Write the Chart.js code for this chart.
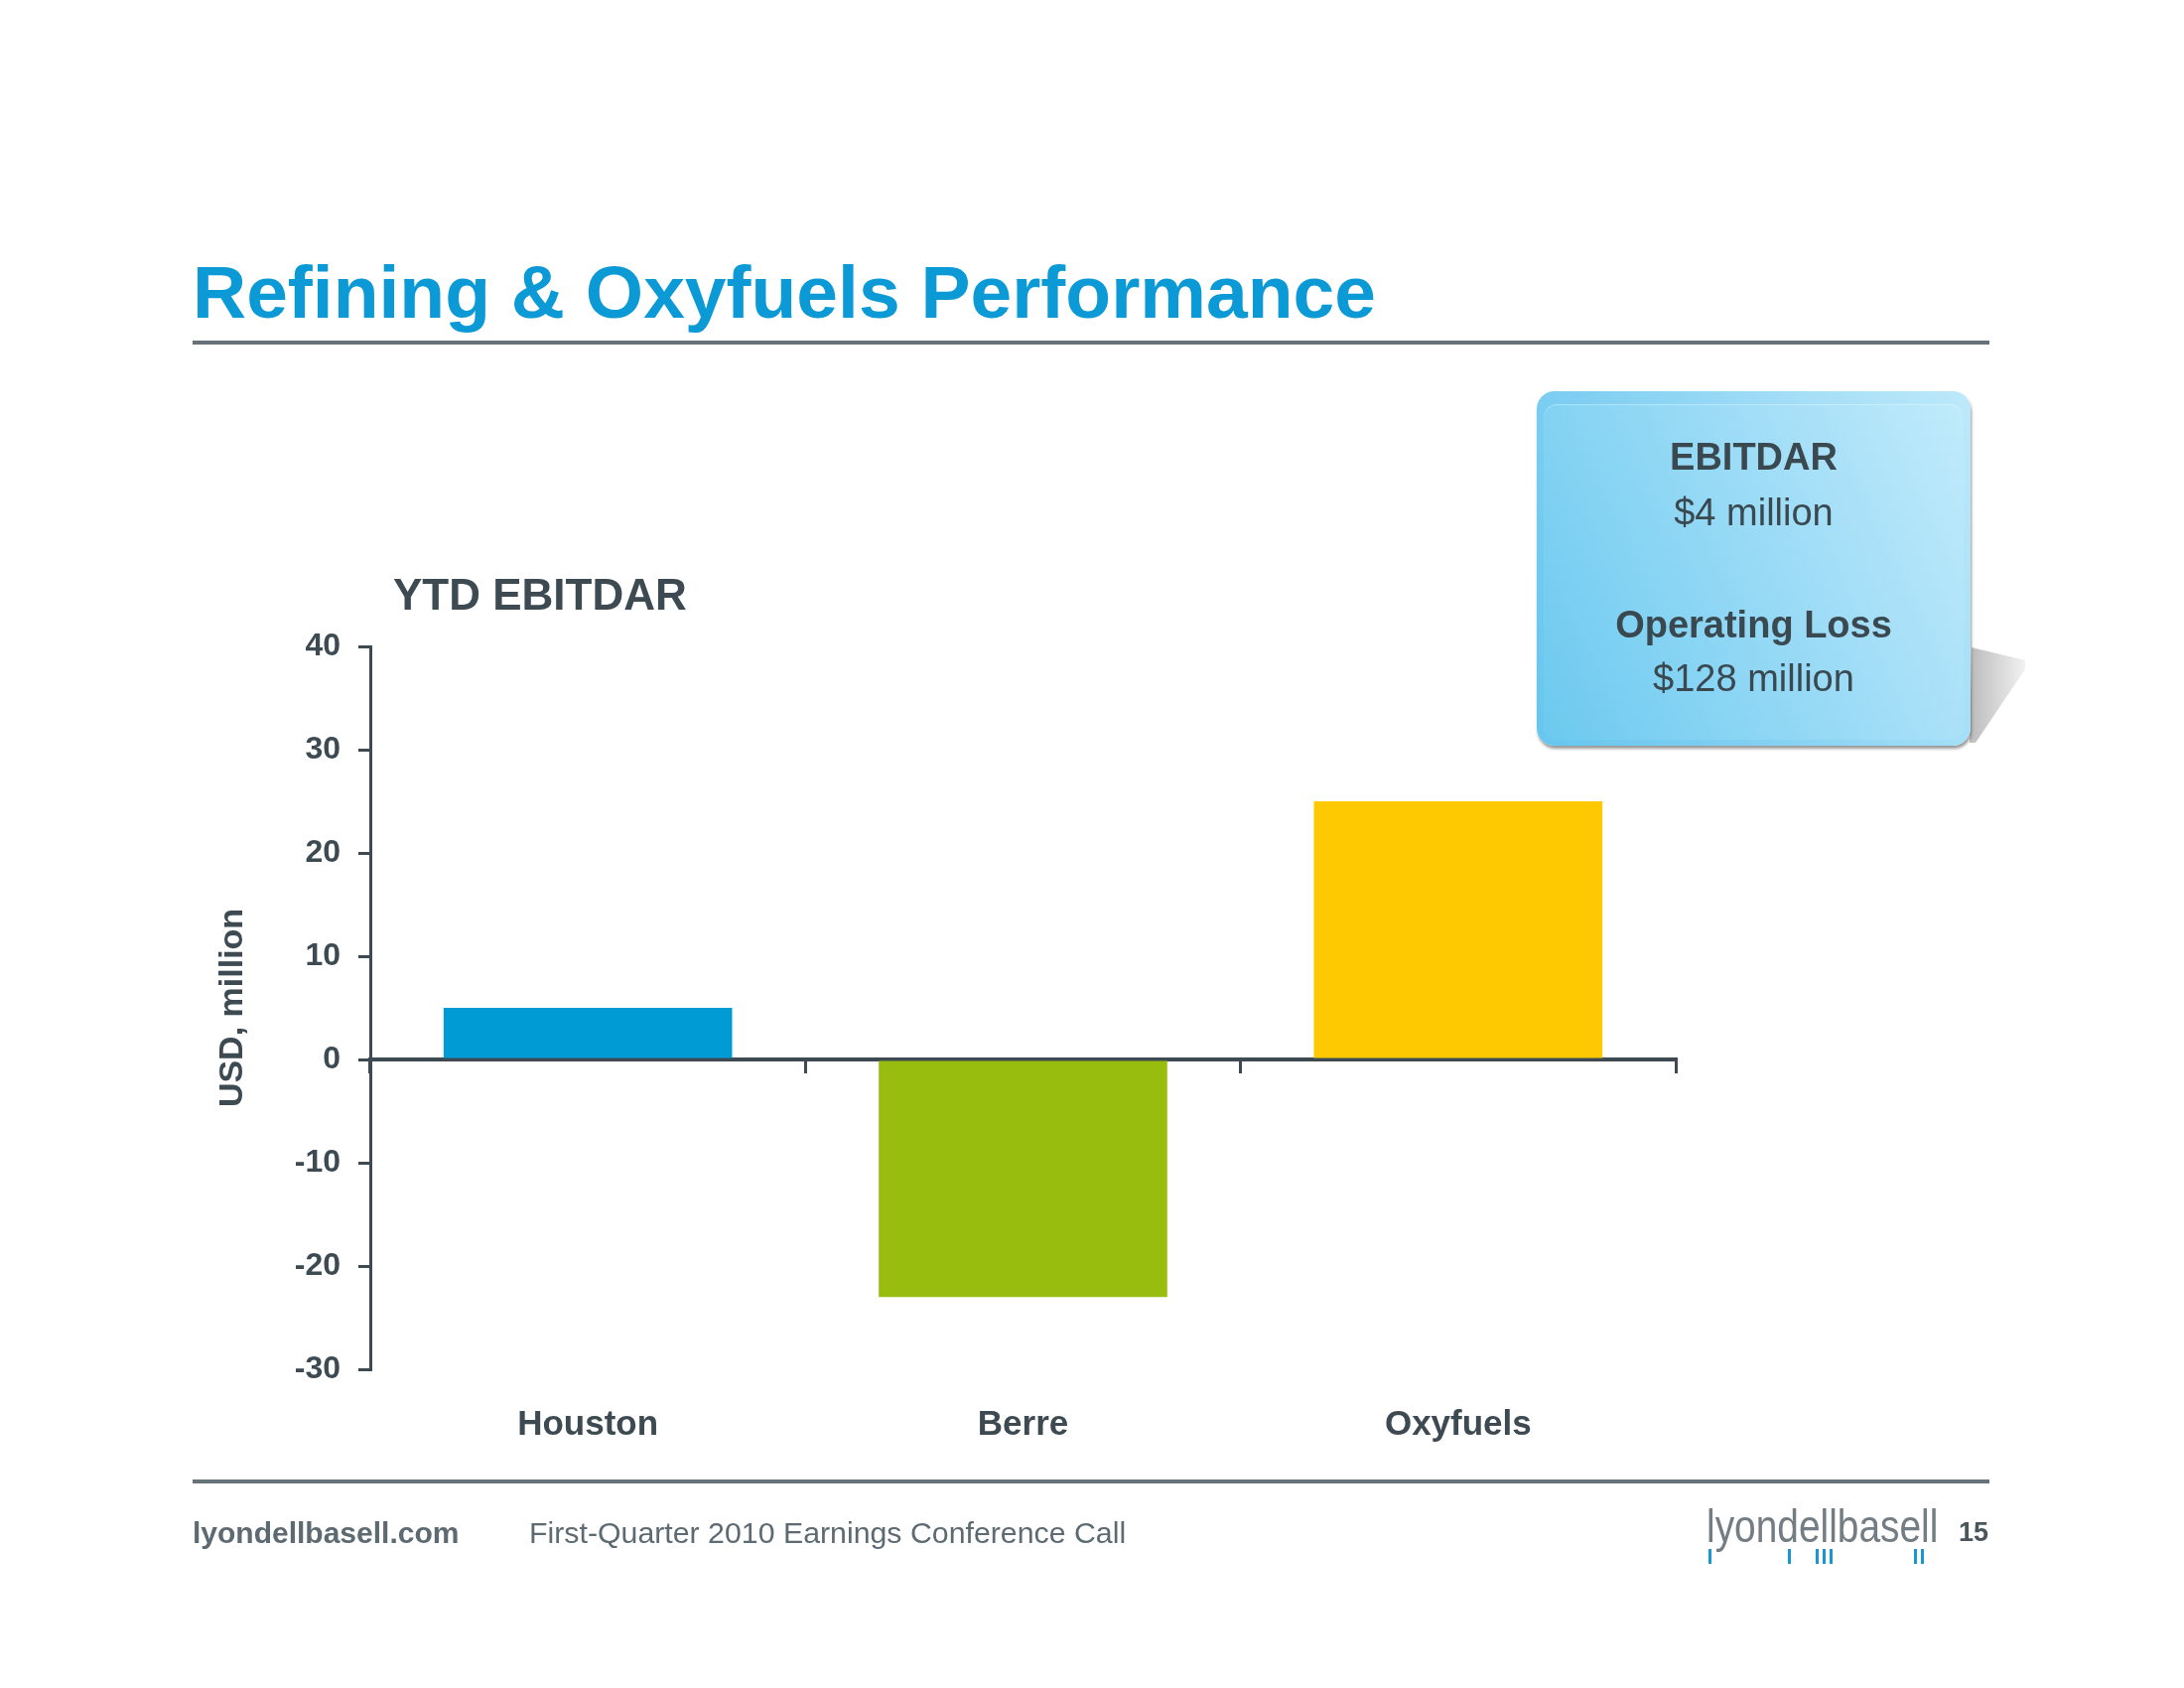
<!DOCTYPE html>
<html>
<head>
<meta charset="utf-8">
<title>Refining &amp; Oxyfuels Performance</title>
<script src="https://cdn.jsdelivr.net/npm/chart.js@4.4.1/dist/chart.umd.min.js"></script>
<style>
  html, body { margin: 0; padding: 0; background: #ffffff; }
  body { width: 2200px; height: 1700px; position: relative; overflow: hidden; font-family: "Liberation Sans", Arial, Helvetica, sans-serif; }
  #chartCanvas { position: absolute; left: 0; top: 0; }
  .ov { position: absolute; white-space: nowrap; line-height: 1; pointer-events: none; z-index: 2; }
  .rule { position: absolute; background: #66737a; z-index: 2; }
  .tick { position: absolute; background: #1a96d3; width: 3px; height: 15px; top: 1560px; z-index: 2; }
  #shadow { position: absolute; left: 1978px; top: 648px; width: 66px; height: 104px; z-index: 1;
    clip-path: polygon(8px 4px, 62px 17px, 62px 26px, 12px 100px, 6px 100px);
    background: linear-gradient(to right, rgba(120,120,120,0.55), rgba(190,190,190,0.15)); filter: blur(3px); }
  #callout { position: absolute; left: 1548px; top: 394px; width: 437px; height: 357px; border-radius: 18px; z-index: 2;
    background: linear-gradient(65deg, #66c6ee 0%, #80cff2 35%, #a3def7 70%, #bde9fa 100%);
    box-shadow: 1px 3px 3px rgba(70,70,70,0.55); }
  #calloutInner { position: absolute; left: 7px; right: 7px; top: 13px; bottom: 6px; border-radius: 14px;
    background: linear-gradient(65deg, #6cc9ef 0%, #8ad5f4 35%, #a8e0f8 70%, #c0ebfb 100%);
    box-shadow: inset 0 1px 1px rgba(255,255,255,0.35); }
  .ct { position: absolute; left: 1548px; width: 437px; text-align: center; color: #3a4850; font-size: 38px; line-height: 1; z-index: 3; }
  #logo { transform: scaleX(0.845); transform-origin: 0 0; }
</style>
</head>
<body>
<canvas id="chartCanvas" width="2200" height="1700"></canvas>

<!-- slide title and rules -->
<div class="ov" style="left:194px; top:257px; font-size:75px; font-weight:bold; color:#0b9ad5;">Refining &amp; Oxyfuels Performance</div>
<div class="rule" style="left:194px; top:343px; width:1810px; height:4px;"></div>
<div class="rule" style="left:194px; top:1490px; width:1810px; height:4px;"></div>

<!-- chart subtitle -->
<div class="ov" style="left:396px; top:577px; font-size:44px; font-weight:bold; color:#3d4a52;">YTD EBITDAR</div>

<!-- callout box -->
<div id="shadow"></div>
<div id="callout"><div id="calloutInner"></div></div>
<div class="ct" style="top:441px; font-weight:bold;">EBITDAR</div>
<div class="ct" style="top:497px;">$4 million</div>
<div class="ct" style="top:610px; font-weight:bold;">Operating Loss</div>
<div class="ct" style="top:664px;">$128 million</div>

<!-- footer -->
<div class="ov" style="left:194px; top:1529px; font-size:30px; font-weight:bold; color:#5d6a71;">lyondellbasell.com</div>
<div class="ov" style="left:533px; top:1529px; font-size:30.3px; color:#5d6a71;">First-Quarter 2010 Earnings Conference Call</div>
<div id="logo" class="ov" style="left:1719px; top:1514px; font-size:46px; color:#737d83;">lyondellbasell</div>
<div class="tick" style="left:1721px;"></div>
<div class="tick" style="left:1801px;"></div>
<div class="tick" style="left:1829px;"></div>
<div class="tick" style="left:1836px;"></div>
<div class="tick" style="left:1843px;"></div>
<div class="tick" style="left:1928px;"></div>
<div class="tick" style="left:1935px;"></div>
<div class="ov" style="left:1973px; top:1530px; font-size:27px; font-weight:bold; color:#4a555c;">15</div>

<script>
// ---- data ----
const categories = ['Houston', 'Berre', 'Oxyfuels'];
const ebitdarValues = [5, -23, 25];          // USD, million
const barColors = ['#009bd5', '#99bd0f', '#fec900'];
const yTickValues = [-30, -20, -10, 0, 10, 20, 30, 40];
const yAxisTitle = 'USD, million';

const axisColor = '#3d4a52';

new Chart(document.getElementById('chartCanvas'), {
  type: 'bar',
  data: {
    labels: categories,
    datasets: [{
      label: 'YTD EBITDAR',
      data: ebitdarValues,
      backgroundColor: barColors,
      borderWidth: 0,
      barPercentage: 0.663,
      categoryPercentage: 1.0,
      xAxisID: 'x',
      yAxisID: 'y'
    }]
  },
  options: {
    responsive: false,
    devicePixelRatio: 1,
    animation: false,
    layout: { padding: { left: 200, top: 651, right: 512, bottom: 221 } },
    plugins: { legend: { display: false }, tooltip: { enabled: false }, title: { display: false } },
    scales: {
      y: {
        type: 'linear',
        position: 'left',
        min: yTickValues[0],
        max: yTickValues[yTickValues.length - 1],
        afterFit: (s) => { s.width = 173; },
        ticks: {
          stepSize: yTickValues[1] - yTickValues[0],
          color: axisColor,
          padding: 18,
          font: { family: 'Liberation Sans, Arial, sans-serif', size: 32, weight: 'bold' }
        },
        grid: { display: true, drawOnChartArea: false, drawTicks: true, tickLength: 12, color: axisColor, lineWidth: 3 },
        border: { display: true, color: axisColor, width: 3 },
        title: {
          display: true,
          text: yAxisTitle,
          color: axisColor,
          padding: { top: 14, bottom: 0 },
          font: { family: 'Liberation Sans, Arial, sans-serif', size: 34, weight: 'bold' }
        }
      },
      x: {
        type: 'category',
        position: { y: 0 },
        offset: true,
        ticks: { display: false },
        grid: { display: true, offset: true, drawOnChartArea: false, drawTicks: true, tickLength: 12, color: axisColor, lineWidth: 3 },
        border: { display: true, color: axisColor, width: 4 }
      },
      x2: {
        type: 'category',
        axis: 'x',
        position: 'bottom',
        offset: true,
        afterFit: (s) => { s.height = 100; },
        ticks: {
          color: axisColor,
          padding: 35,
          font: { family: 'Liberation Sans, Arial, sans-serif', size: 35, weight: 'bold' }
        },
        grid: { display: false, drawTicks: false },
        border: { display: false }
      }
    }
  }
});
</script>
</body>
</html>
